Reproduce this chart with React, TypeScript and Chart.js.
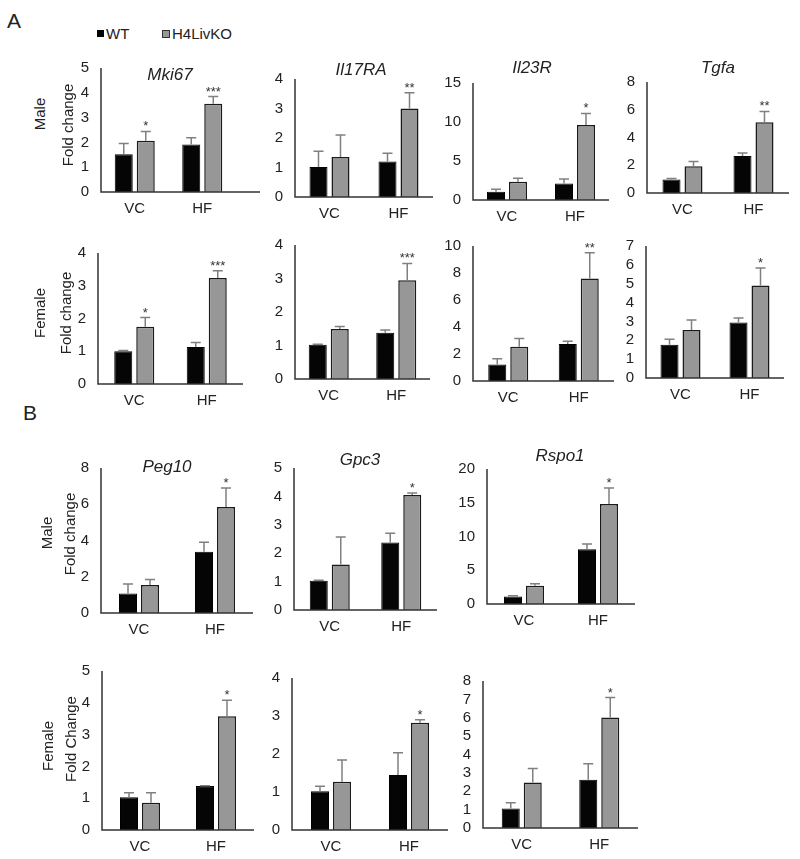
import React, { useEffect, useRef } from 'react';
import { Chart, registerables } from 'chart.js';
Chart.register(...registerables);

const FONT = "'Liberation Sans', Arial, Helvetica, sans-serif";
const TEXT = '#222';

const categories = ['VC', 'HF'];
const seriesNames = ['WT', 'H4LivKO'];

// ---- Panel A, male ----
const mki67MaleWT = [1.52, 1.92];
const mki67MaleWTErr = [0.44, 0.27];
const mki67MaleKO = [2.07, 3.56];
const mki67MaleKOErr = [0.37, 0.29];
const mki67MaleSig = ['*', '***'];
const mki67MaleTicks = [0, 1, 2, 3, 4, 5];

const il17raMaleWT = [1.02, 1.2];
const il17raMaleWTErr = [0.53, 0.28];
const il17raMaleKO = [1.36, 3.0];
const il17raMaleKOErr = [0.74, 0.53];
const il17raMaleSig = ['', '**'];
const il17raMaleTicks = [0, 1, 2, 3, 4];

const il23rMaleWT = [1.05, 2.1];
const il23rMaleWTErr = [0.33, 0.6];
const il23rMaleKO = [2.35, 9.6];
const il23rMaleKOErr = [0.45, 1.5];
const il23rMaleSig = ['', '*'];
const il23rMaleTicks = [0, 5, 10, 15];

const tgfaMaleWT = [0.97, 2.66];
const tgfaMaleWTErr = [0.08, 0.23];
const tgfaMaleKO = [1.92, 5.1];
const tgfaMaleKOErr = [0.35, 0.78];
const tgfaMaleSig = ['', '**'];
const tgfaMaleTicks = [0, 2, 4, 6, 8];

// ---- Panel A, female ----
const mki67FemaleWT = [1.0, 1.13];
const mki67FemaleWTErr = [0.02, 0.14];
const mki67FemaleKO = [1.75, 3.24];
const mki67FemaleKOErr = [0.28, 0.22];
const mki67FemaleSig = ['*', '***'];
const mki67FemaleTicks = [0, 1, 2, 3, 4];

const il17raFemaleWT = [1.02, 1.38];
const il17raFemaleWTErr = [0.02, 0.08];
const il17raFemaleKO = [1.49, 2.95];
const il17raFemaleKOErr = [0.08, 0.5];
const il17raFemaleSig = ['', '***'];
const il17raFemaleTicks = [0, 1, 2, 3, 4];

const il23rFemaleWT = [1.23, 2.74];
const il23rFemaleWTErr = [0.41, 0.21];
const il23rFemaleKO = [2.53, 7.6];
const il23rFemaleKOErr = [0.62, 1.9];
const il23rFemaleSig = ['', '**'];
const il23rFemaleTicks = [0, 2, 4, 6, 8, 10];

const tgfaFemaleWT = [1.76, 2.94];
const tgfaFemaleWTErr = [0.3, 0.24];
const tgfaFemaleKO = [2.55, 4.9];
const tgfaFemaleKOErr = [0.53, 0.93];
const tgfaFemaleSig = ['', '*'];
const tgfaFemaleTicks = [0, 1, 2, 3, 4, 5, 6, 7];

// ---- Panel B, male ----
const peg10MaleWT = [1.08, 3.38];
const peg10MaleWTErr = [0.52, 0.52];
const peg10MaleKO = [1.54, 5.85];
const peg10MaleKOErr = [0.31, 1.05];
const peg10MaleSig = ['', '*'];
const peg10MaleTicks = [0, 2, 4, 6, 8];

const gpc3MaleWT = [1.03, 2.38];
const gpc3MaleWTErr = [0.02, 0.32];
const gpc3MaleKO = [1.6, 4.05];
const gpc3MaleKOErr = [0.97, 0.07];
const gpc3MaleSig = ['', '*'];
const gpc3MaleTicks = [0, 1, 2, 3, 4, 5];

const rspo1MaleWT = [1.1, 8.1];
const rspo1MaleWTErr = [0.12, 0.8];
const rspo1MaleKO = [2.7, 14.8];
const rspo1MaleKOErr = [0.3, 2.4];
const rspo1MaleSig = ['', '*'];
const rspo1MaleTicks = [0, 5, 10, 15, 20];

// ---- Panel B, female ----
const peg10FemaleWT = [1.03, 1.38];
const peg10FemaleWTErr = [0.14, 0.01];
const peg10FemaleKO = [0.86, 3.58];
const peg10FemaleKOErr = [0.31, 0.5];
const peg10FemaleSig = ['', '*'];
const peg10FemaleTicks = [0, 1, 2, 3, 4, 5];

const gpc3FemaleWT = [1.02, 1.45];
const gpc3FemaleWTErr = [0.13, 0.58];
const gpc3FemaleKO = [1.27, 2.82];
const gpc3FemaleKOErr = [0.57, 0.08];
const gpc3FemaleSig = ['', '*'];
const gpc3FemaleTicks = [0, 1, 2, 3, 4];

const rspo1FemaleWT = [1.06, 2.63];
const rspo1FemaleWTErr = [0.31, 0.86];
const rspo1FemaleKO = [2.48, 6.02];
const rspo1FemaleKOErr = [0.76, 1.08];
const rspo1FemaleSig = ['', '*'];
const rspo1FemaleTicks = [0, 1, 2, 3, 4, 5, 6, 7, 8];

type Spec = {
  title: string;
  wt: number[]; wtErr: number[];
  ko: number[]; koErr: number[];
  sig: string[]; ticks: number[];
};

const specs: Spec[] = [
  { title: 'Mki67', wt: mki67MaleWT, wtErr: mki67MaleWTErr, ko: mki67MaleKO, koErr: mki67MaleKOErr, sig: mki67MaleSig, ticks: mki67MaleTicks },
  { title: 'Il17RA', wt: il17raMaleWT, wtErr: il17raMaleWTErr, ko: il17raMaleKO, koErr: il17raMaleKOErr, sig: il17raMaleSig, ticks: il17raMaleTicks },
  { title: 'Il23R', wt: il23rMaleWT, wtErr: il23rMaleWTErr, ko: il23rMaleKO, koErr: il23rMaleKOErr, sig: il23rMaleSig, ticks: il23rMaleTicks },
  { title: 'Tgfa', wt: tgfaMaleWT, wtErr: tgfaMaleWTErr, ko: tgfaMaleKO, koErr: tgfaMaleKOErr, sig: tgfaMaleSig, ticks: tgfaMaleTicks },
  { title: '', wt: mki67FemaleWT, wtErr: mki67FemaleWTErr, ko: mki67FemaleKO, koErr: mki67FemaleKOErr, sig: mki67FemaleSig, ticks: mki67FemaleTicks },
  { title: '', wt: il17raFemaleWT, wtErr: il17raFemaleWTErr, ko: il17raFemaleKO, koErr: il17raFemaleKOErr, sig: il17raFemaleSig, ticks: il17raFemaleTicks },
  { title: '', wt: il23rFemaleWT, wtErr: il23rFemaleWTErr, ko: il23rFemaleKO, koErr: il23rFemaleKOErr, sig: il23rFemaleSig, ticks: il23rFemaleTicks },
  { title: '', wt: tgfaFemaleWT, wtErr: tgfaFemaleWTErr, ko: tgfaFemaleKO, koErr: tgfaFemaleKOErr, sig: tgfaFemaleSig, ticks: tgfaFemaleTicks },
  { title: 'Peg10', wt: peg10MaleWT, wtErr: peg10MaleWTErr, ko: peg10MaleKO, koErr: peg10MaleKOErr, sig: peg10MaleSig, ticks: peg10MaleTicks },
  { title: 'Gpc3', wt: gpc3MaleWT, wtErr: gpc3MaleWTErr, ko: gpc3MaleKO, koErr: gpc3MaleKOErr, sig: gpc3MaleSig, ticks: gpc3MaleTicks },
  { title: 'Rspo1', wt: rspo1MaleWT, wtErr: rspo1MaleWTErr, ko: rspo1MaleKO, koErr: rspo1MaleKOErr, sig: rspo1MaleSig, ticks: rspo1MaleTicks },
  { title: '', wt: peg10FemaleWT, wtErr: peg10FemaleWTErr, ko: peg10FemaleKO, koErr: peg10FemaleKOErr, sig: peg10FemaleSig, ticks: peg10FemaleTicks },
  { title: '', wt: gpc3FemaleWT, wtErr: gpc3FemaleWTErr, ko: gpc3FemaleKO, koErr: gpc3FemaleKOErr, sig: gpc3FemaleSig, ticks: gpc3FemaleTicks },
  { title: '', wt: rspo1FemaleWT, wtErr: rspo1FemaleWTErr, ko: rspo1FemaleKO, koErr: rspo1FemaleKOErr, sig: rspo1FemaleSig, ticks: rspo1FemaleTicks },
];

// Layout boxes (page pixels): y-axis x, axis top, baseline, plot right, axis line end, title center
type Box = { l: number; t: number; b: number; r: number; end?: number; tx?: number; ty?: number };
const boxes: Box[] = [
  { l: 101, t: 57, b: 192, r: 236, end: 260, tx: 170, ty: 74 },
  { l: 295, t: 68, b: 197, r: 433, tx: 361, ty: 69 },
  { l: 473, t: 72, b: 200, r: 609, tx: 532, ty: 67 },
  { l: 647, t: 71, b: 193, r: 789, tx: 718, ty: 67 },
  { l: 98, t: 242, b: 384, r: 243 },
  { l: 295, t: 234, b: 379, r: 430 },
  { l: 473, t: 235, b: 381, r: 614 },
  { l: 646, t: 235, b: 378, r: 784 },
  { l: 101, t: 457, b: 613, r: 253, tx: 167, ty: 466 },
  { l: 294, t: 457, b: 610, r: 437, tx: 360, ty: 459 },
  { l: 487, t: 458, b: 604, r: 635, tx: 560, ty: 455 },
  { l: 102, t: 660, b: 830, r: 254 },
  { l: 292, t: 667, b: 830, r: 448 },
  { l: 483, t: 670, b: 828, r: 638 },
];

const YW = 40, PT = 10, PR = 4, XH = 28;
const BAR = 18, GAP = 4;

const axesPlugin = {
  id: 'axesLines',
  afterDatasetsDraw(chart: any) {
    const { ctx, chartArea } = chart;
    const ext = chart.options.plugins.axesLines?.ext || 0;
    ctx.save();
    ctx.strokeStyle = '#333';
    ctx.lineWidth = 1.5;
    ctx.beginPath();
    ctx.moveTo(chartArea.left, chartArea.top);
    ctx.lineTo(chartArea.left, chartArea.bottom);
    ctx.lineTo(chartArea.right + ext, chartArea.bottom);
    ctx.stroke();
    ctx.restore();
  },
};

const errorPlugin = {
  id: 'errBars',
  afterDatasetsDraw(chart: any) {
    const { ctx } = chart;
    const y = chart.scales.y;
    ctx.save();
    chart.data.datasets.forEach((ds: any, i: number) => {
      const meta = chart.getDatasetMeta(i);
      meta.data.forEach((bar: any, j: number) => {
        const v = ds.data[j];
        const e = ds.err ? ds.err[j] : 0;
        const y0 = y.getPixelForValue(v);
        const y1 = y.getPixelForValue(v + e);
        ctx.strokeStyle = '#808080';
        ctx.lineWidth = 1.5;
        ctx.beginPath();
        ctx.moveTo(bar.x, y0);
        ctx.lineTo(bar.x, y1);
        ctx.moveTo(bar.x - 5, y1);
        ctx.lineTo(bar.x + 5, y1);
        ctx.stroke();
        if (ds.sig && ds.sig[j]) {
          ctx.fillStyle = '#333';
          ctx.font = `13px ${FONT}`;
          ctx.textAlign = 'center';
          ctx.textBaseline = 'alphabetic';
          ctx.fillText(ds.sig[j], bar.x, y1 - 1);
        }
      });
    });
    ctx.restore();
  },
};

function MiniChart({ spec, box }: { spec: Spec; box: Box }) {
  const ref = useRef<HTMLCanvasElement>(null);
  const end = box.end ?? box.r;
  const ext = end - box.r;
  const width = YW + (end - box.l) + PR;
  const height = PT + (box.b - box.t) + XH;
  useEffect(() => {
    const catW = (box.r - box.l) / 2;
    const ticks = spec.ticks;
    const chart = new Chart(ref.current as HTMLCanvasElement, {
      type: 'bar',
      data: {
        labels: categories,
        datasets: [
          { label: seriesNames[0], data: spec.wt, backgroundColor: '#050505', borderColor: '#000', borderWidth: 1, err: spec.wtErr } as any,
          { label: seriesNames[1], data: spec.ko, backgroundColor: '#979797', borderColor: '#1a1a1a', borderWidth: 1.5, err: spec.koErr, sig: spec.sig } as any,
        ],
      },
      options: {
        responsive: false,
        animation: false,
        layout: { padding: { top: PT, right: PR + ext, left: 0, bottom: 0 } },
        datasets: {
          bar: { categoryPercentage: (2 * (BAR + GAP)) / catW, barPercentage: BAR / (BAR + GAP) },
        },
        plugins: {
          legend: { display: false },
          tooltip: { enabled: false },
          axesLines: { ext },
        } as any,
        scales: {
          x: {
            grid: { display: false, drawTicks: false },
            border: { display: false },
            ticks: { color: TEXT, font: { family: FONT, size: 15 }, padding: 8 },
            afterFit: (s: any) => { s.height = XH; },
          },
          y: {
            min: ticks[0],
            max: ticks[ticks.length - 1],
            grid: { display: false, drawTicks: false },
            border: { display: false },
            afterBuildTicks: (s: any) => { s.ticks = ticks.map((v) => ({ value: v })); },
            ticks: { autoSkip: false, stepSize: ticks[1] - ticks[0], color: TEXT, font: { family: FONT, size: 15 }, padding: 12 },
            afterFit: (s: any) => { s.width = YW; },
          },
        },
      },
      plugins: [axesPlugin, errorPlugin],
    });
    return () => chart.destroy();
  }, []);
  return (
    <canvas
      ref={ref}
      width={width}
      height={height}
      style={{ position: 'absolute', left: box.l - YW, top: box.t - PT, width, height }}
    />
  );
}

function Label({ x, y, text, size = 15, italic = false, rot = false }: any) {
  return (
    <div
      style={{
        position: 'absolute', left: x, top: y, fontSize: size, lineHeight: 1,
        fontStyle: italic ? 'italic' : 'normal', color: TEXT, whiteSpace: 'nowrap',
        transform: `translate(-50%, -50%)${rot ? ' rotate(-90deg)' : ''}`,
      }}
    >
      {text}
    </div>
  );
}

const sideLabels = [
  { text: 'A', x: 14, y: 20, size: 21 },
  { text: 'B', x: 30, y: 412, size: 21 },
  { text: 'Male', x: 39, y: 114, rot: true },
  { text: 'Fold change', x: 67, y: 125, rot: true },
  { text: 'Female', x: 39, y: 313, rot: true },
  { text: 'Fold change', x: 65, y: 313, rot: true },
  { text: 'Male', x: 46, y: 533, rot: true },
  { text: 'Fold change', x: 69, y: 534, rot: true },
  { text: 'Female', x: 47, y: 746, rot: true },
  { text: 'Fold Change', x: 70, y: 739, rot: true },
];

export default function App() {
  return (
    <div style={{ position: 'absolute', left: 0, top: 0, width: 800, height: 859, background: '#fff', overflow: 'hidden', fontFamily: FONT }}>
      {specs.map((s, i) => (
        <MiniChart key={i} spec={s} box={boxes[i]} />
      ))}
      {specs.map((s, i) =>
        s.title ? <Label key={'t' + i} x={boxes[i].tx} y={boxes[i].ty} text={s.title} size={17} italic /> : null
      )}
      {sideLabels.map((l, i) => (
        <Label key={'s' + i} {...l} />
      ))}
      <div style={{ position: 'absolute', left: 97, top: 26, fontSize: 15, lineHeight: 1, color: TEXT, display: 'flex', alignItems: 'center' }}>
        <span style={{ width: 7, height: 7, background: '#000', display: 'inline-block', marginRight: 2 }} />
        <span>{seriesNames[0]}</span>
      </div>
      <div style={{ position: 'absolute', left: 162, top: 26, fontSize: 15, lineHeight: 1, color: TEXT, display: 'flex', alignItems: 'center' }}>
        <span style={{ width: 6, height: 6, background: '#979797', border: '1px solid #333', display: 'inline-block', marginRight: 2 }} />
        <span>{seriesNames[1]}</span>
      </div>
    </div>
  );
}
